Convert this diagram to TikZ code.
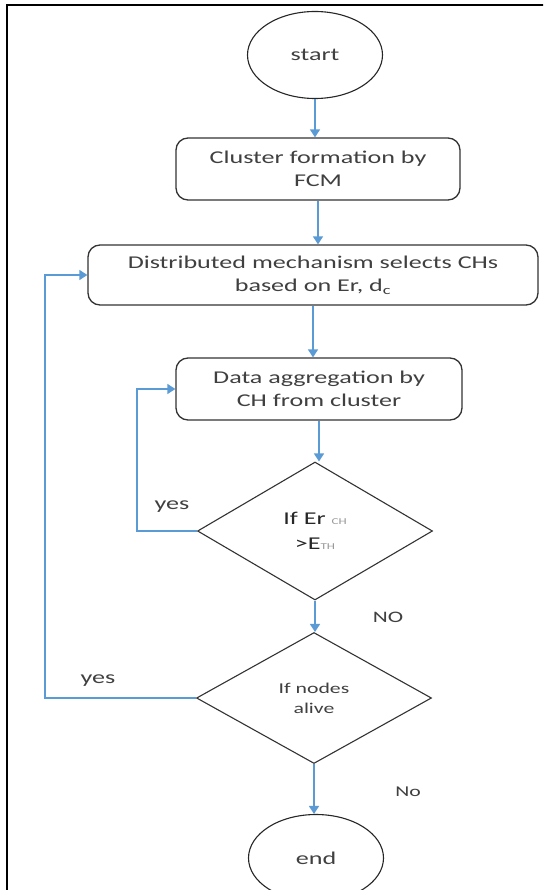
\documentclass[tikz,border=0pt]{standalone}
\usepackage{fontspec}
\newfontfamily\chartfont[FakeStretch=1.45]{Carlito}
\usetikzlibrary{shapes.geometric,arrows.meta}
\definecolor{flowblue}{RGB}{91,155,213}
\definecolor{inkgray}{RGB}{64,64,64}

\begin{document}
\begin{tikzpicture}[x=1pt, y=1pt,
    every node/.style={font=\chartfont\fontsize{18}{23.5}\selectfont, text=inkgray},
    terminal/.style={draw=black!85, ellipse, line width=1.1pt, minimum width=135pt, minimum height=87pt},
    process/.style={draw=black!80, rounded corners=12pt, line width=1.3pt, minimum height=62pt, align=center},
    decision/.style={draw=black!80, diamond, line width=1.1pt, inner sep=0pt, aspect=1.7,
      minimum width=235pt, minimum height=138pt, align=center},
    flow/.style={draw=flowblue, line width=1.4pt, -{Triangle[width=10pt,length=8pt]}}]
    \useasboundingbox (0,0) rectangle (543,-890);
    \clip (0,0) rectangle (543,-890);
    \fill[white] (0,0) rectangle (543,-890);
    % Outer frame (cut at right and bottom)
    \draw[line width=2.5pt] (7,-950) -- (7,-5) -- (600,-5);
    % Flow chart nodes
    \node[terminal] (start) at (315,-55) {start};
    \node[process, minimum width=284pt] (fcm) at (318,-169) {Cluster formation by\\FCM};
    \node[process, minimum width=450pt, minimum height=60pt] (select) at (313,-275)
      {Distributed mechanism selects CHs\\based on Er, d\textsubscript{c}};
    \node[process, minimum width=286pt] (aggr) at (319,-389) {Data aggregation by\\CH from cluster};
    \node[decision] (energy) at (315,-531)
      {\color{black!85}If Er {\fontsize{9}{9}\selectfont\color{black!40}CH}\\[2pt]
       \color{black!85}>E{\fontsize{9}{9}\selectfont\color{black!40}TH}};
    \node[decision, minimum height=131pt, font=\chartfont\fontsize{15}{20}\selectfont] (alive) at (314,-698)
      {If nodes\\alive};
    \node[terminal] (end) at (316,-858) {end};
    % Straight arrows
    \foreach \a/\b in {start/fcm, fcm/select, select/aggr, aggr/energy, energy/alive, alive/end}
      \draw[flow] (\a.south) -- (\a.south |- \b.north);
    % Loops back
    \draw[flow] (energy.west) -- ++(-60,0) |- (aggr.west);
    \draw[flow] (alive.west) -- ++(-151,0) |- (select.west);
    % Labels
    \node (yesin) at (172,-507) {yes};
    \node[font=\chartfont\fontsize{16}{16}\selectfont] (noin) at (388,-617) {NO};
    \node (yesout) at (98,-681) {yes};
    \node[font=\chartfont\fontsize{15}{15}\selectfont] (noout) at (408,-792) {No};
\end{tikzpicture}
\end{document}
